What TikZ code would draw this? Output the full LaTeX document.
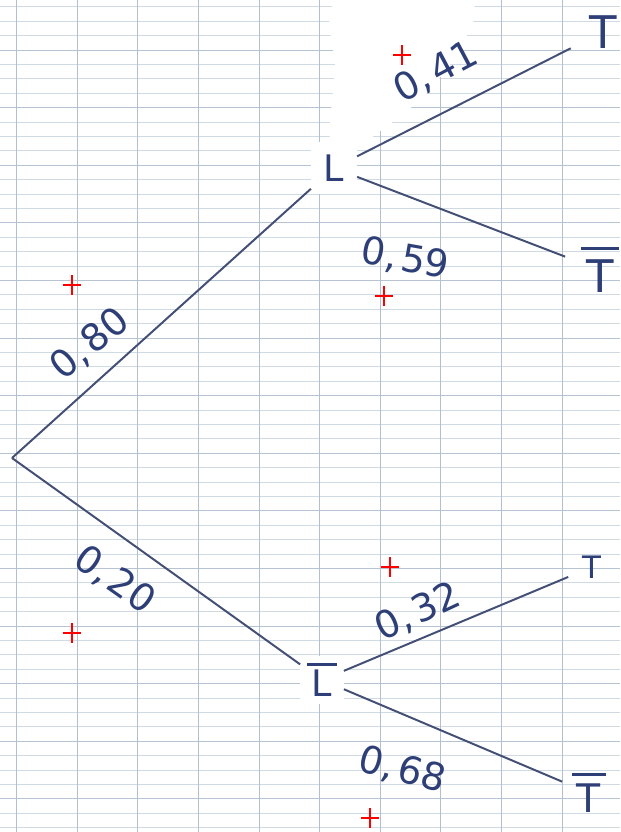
\documentclass[tikz,border=0pt]{standalone}
\usepackage{fontspec}
\setmainfont{DejaVu Sans}
\newcommand\ovl[3][1.4pt]{\vbox{\hrule height #1\kern #2\hbox{\kern0.12em#3\kern0.12em}}}
\definecolor{ink}{HTML}{2E3F78}
\definecolor{pen}{HTML}{434F74}
\definecolor{gridthin}{HTML}{CFDAE5}
\definecolor{gridthick}{HTML}{B5C3D3}
\definecolor{gridv}{HTML}{B2BFD0}
\tikzset{
  hl/.style={gridthin, line width=0.5pt},
  hlt/.style={gridthick, line width=0.7pt},
  vl/.style={gridv, line width=0.6pt},
  br/.style={pen, line width=1.4pt},
  ev/.style={text=ink, font=\fontsize{26}{28}\selectfont},
  evT/.style={text=ink, font=\fontsize{32}{34}\selectfont},
  evt/.style={text=ink, font=\fontsize{22}{24}\selectfont},
  lab/.style={text=ink, inner sep=0pt, font=\fontsize{27}{29}\selectfont},
  redx/.style={red, line width=1.6pt},
}
\begin{document}
\begin{tikzpicture}[x=0.025cm, y=-0.025cm]
\useasboundingbox (0,0) rectangle (620,832);
\fill[white] (0,0) rectangle (620,832);
% grid paper
\foreach \i in {0,...,57} {
  \pgfmathtruncatemacro\m{mod(\i,4)}
  \ifnum\m=3
    \draw[hlt] (0,{6.8+14.4*\i}) -- (620,{6.8+14.4*\i});
  \else
    \draw[hl] (0,{6.8+14.4*\i}) -- (620,{6.8+14.4*\i});
  \fi
}
\foreach \k in {0,...,9} \draw[vl] ({16.7+60.6*\k},0) -- ({16.7+60.6*\k},832);
% erased white patch
\fill[white] plot[smooth cycle] coordinates {(338,0) (468,0) (462,45) (425,95) (375,135) (350,150) (330,140) (335,70)};
% nodes
\coordinate (R) at (12,458);
\node[ev, fill=white, inner sep=9pt] (L) at (334,168) {L};
\node[ev, fill=white, inner sep=5pt] (Lb) at (322,680) {\ovl[1.6pt]{3pt}{L}};
\node[evT, inner sep=13pt] (T1) at (603,32) {T};
\node[evT, inner sep=11pt] (T2) at (600,270) {\ovl[1.8pt]{7pt}{T}};
\node[evt, inner sep=10pt] (T3) at (592,567) {T};
\node[evT, inner sep=7pt, font=\fontsize{28}{30}\selectfont] (T4) at (589,793) {\ovl[1.8pt]{6pt}{T}};
% branches
\draw[br] (R) -- (L);
\draw[br] (R) -- (Lb);
\draw[br] (L) -- (T1);
\draw[br] (L) -- (T2);
\draw[br] (Lb) -- (T3);
\draw[br] (Lb) -- (T4);
% probabilities
\node[lab, rotate=40] (p1) at (90,344) {0,\kern3pt 80};
\node[lab, rotate=-35] (p2) at (115,580) {0,\kern3pt 20};
\node[lab, rotate=28] (p3) at (436,72) {0,\kern3pt 41};
\node[lab, rotate=-10] (p4) at (405,259) {0,\kern3pt 59};
\node[lab, rotate=25] (p5) at (418,612) {0,\kern3pt 32};
\node[lab, rotate=-15] (p6) at (402,770) {0,\kern3pt 68};
% red marks
\foreach \x/\y in {402/55, 72/285, 384/296, 390/567, 72/633, 370/818}
  \draw[redx] (\x-9,\y) -- (\x+9,\y) (\x,\y-10) -- (\x,\y+10);
\end{tikzpicture}
\end{document}
